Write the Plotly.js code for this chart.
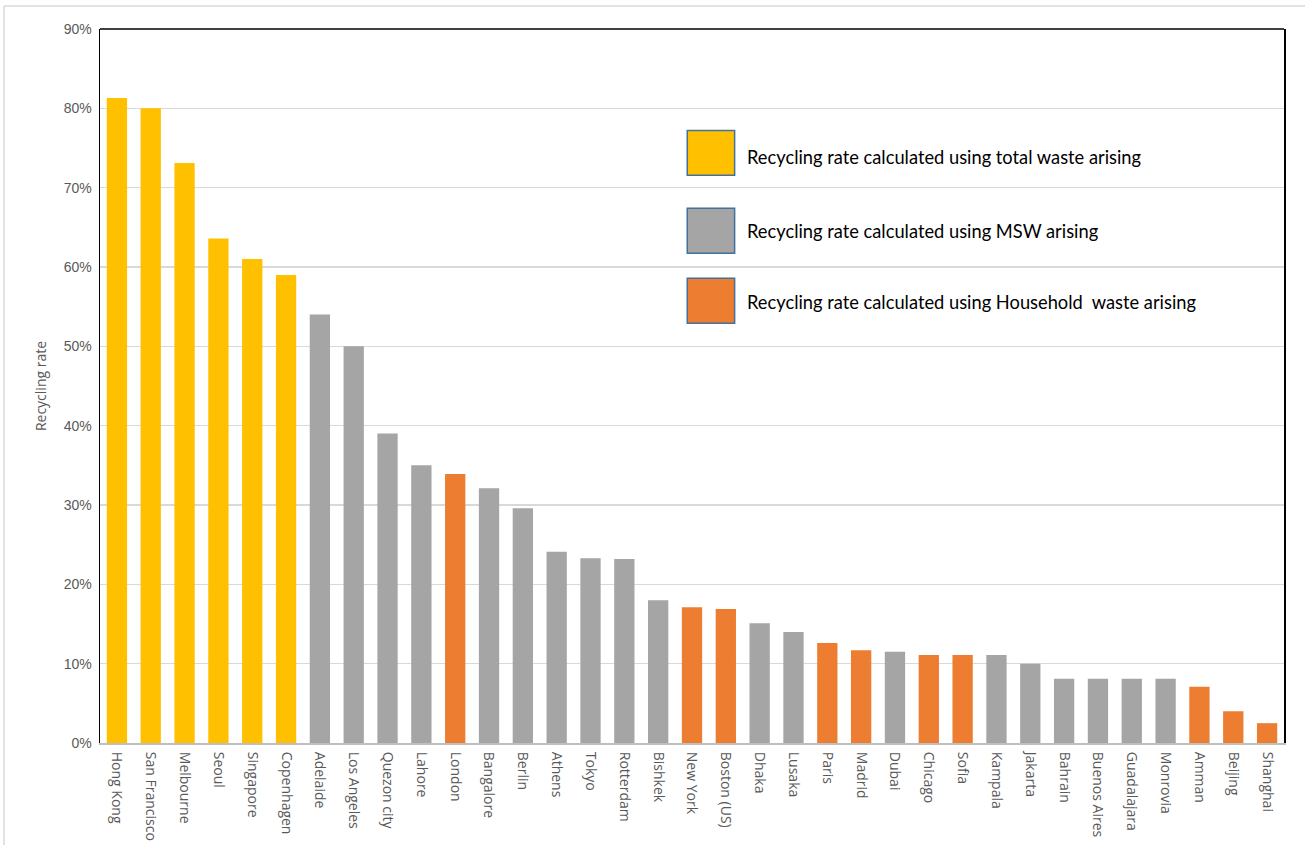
<!DOCTYPE html>
<html>
<head>
<meta charset="utf-8">
<script src="https://cdn.plot.ly/plotly-3.0.1.min.js"></script>
<style>
  html, body { margin: 0; padding: 0; background: #ffffff; }
  #chart { width: 1305px; height: 845px; }
</style>
</head>
<body>
<div id="chart"></div>
<script>
// City recycling rates, ordered from highest to lowest
const cities = [
  "Hong Kong", "San Francisco", "Melbourne", "Seoul", "Singapore", "Copenhagen",
  "Adelaide", "Los Angeles", "Quezon city", "Lahore", "London", "Bangalore",
  "Berlin", "Athens", "Tokyo", "Rotterdam", "Bishkek", "New York", "Boston (US)",
  "Dhaka", "Lusaka", "Paris", "Madrid", "Dubai", "Chicago", "Sofia", "Kampala",
  "Jakarta", "Bahrain", "Buenos Aires", "Guadalajara", "Monrovia", "Amman",
  "Beijing", "Shanghai"
];

const rates = [
  0.813, 0.800, 0.731, 0.636, 0.610, 0.590,
  0.540, 0.500, 0.390, 0.350, 0.339, 0.321,
  0.296, 0.241, 0.233, 0.232, 0.180, 0.171, 0.169,
  0.151, 0.140, 0.126, 0.117, 0.115, 0.111, 0.111, 0.111,
  0.100, 0.081, 0.081, 0.081, 0.081, 0.071,
  0.040, 0.025
];

// Which waste total each rate was calculated against
const basis = [
  "total", "total", "total", "total", "total", "total",
  "msw", "msw", "msw", "msw", "household", "msw",
  "msw", "msw", "msw", "msw", "msw", "household", "household",
  "msw", "msw", "household", "household", "msw", "household", "household", "msw",
  "msw", "msw", "msw", "msw", "msw", "household",
  "household", "household"
];

const basisKeys = ["total", "msw", "household"];
const basisLabels = [
  "Recycling rate calculated using total waste arising",
  "Recycling rate calculated using MSW arising",
  "Recycling rate calculated using Household  waste arising"
];
const basisColors = { total: "#FFC000", msw: "#A5A5A5", household: "#ED7D31" };

const yTickVals = [0, 0.1, 0.2, 0.3, 0.4, 0.5, 0.6, 0.7, 0.8, 0.9];

const trace = {
  type: "bar",
  x: cities,
  y: rates,
  marker: { color: basis.map(b => basisColors[b]), line: { width: 0 } },
  hovertemplate: "%{x}: %{y:.1%}<extra></extra>",
  showlegend: false
};

// Legend drawn as large swatches with text beside them (no background, gridlines show through)
const legendShapes = [];
const legendNotes = [];
const swatchTop = [0.858, 0.749, 0.651];   // paper y of swatch tops
const textMid = [0.821, 0.717, 0.618];     // paper y of label centres
basisKeys.forEach((k, i) => {
  legendShapes.push({
    type: "rect", xref: "paper", yref: "paper",
    x0: 0.496, x1: 0.536, y0: swatchTop[i] - 0.063, y1: swatchTop[i],
    fillcolor: basisColors[k],
    line: { color: "#41719C", width: 1.5 }
  });
  legendNotes.push({
    xref: "paper", yref: "paper",
    x: 0.5445, y: textMid[i],
    xanchor: "left", yanchor: "middle",
    text: basisLabels[i], showarrow: false,
    font: { family: "Lato, 'Open Sans', sans-serif", size: 18.3, color: "#000000" }
  });
});

const frameShapes = [
  // outer chart-area frame
  { type: "line", xref: "paper", yref: "paper", x0: -0.0811, x1: -0.0811, y0: -0.2, y1: 1.0322,
    line: { color: "#d9d9d9", width: 1.5 } },
  { type: "line", xref: "paper", yref: "paper", x0: -0.0811, x1: 1.05, y0: 1.0322, y1: 1.0322,
    line: { color: "#d9d9d9", width: 1.5 } },
  // top edge of the plot frame
  { type: "line", xref: "paper", yref: "paper", x0: 0, x1: 1, y0: 1, y1: 1,
    line: { color: "#000000", width: 1.5 } }
];

const layout = {
  width: 1305,
  height: 845,
  autosize: false,
  margin: { l: 100, r: 21, t: 29, b: 102 },
  paper_bgcolor: "#ffffff",
  plot_bgcolor: "#ffffff",
  bargap: 0.4,
  font: { family: "'Liberation Sans', Arial, sans-serif", color: "#595959" },
  xaxis: {
    type: "category",
    categoryorder: "array",
    categoryarray: cities,
    tickangle: 90,
    tickfont: { family: "'Open Sans', sans-serif", size: 14, color: "#595959" },
    ticks: "",
    ticklabelstandoff: 4,
    showline: true,
    linecolor: "#bfbfbf",
    linewidth: 2,
    showgrid: false,
    zeroline: false,
    fixedrange: true
  },
  yaxis: {
    range: [0, 0.9],
    tickvals: yTickVals,
    tickformat: ".0%",
    tickfont: { family: "'Liberation Sans', Arial, sans-serif", size: 14, color: "#595959" },
    ticks: "",
    ticklabelstandoff: 4,
    showline: true,
    mirror: true,
    linecolor: "#000000",
    linewidth: 1.5,
    showgrid: true,
    gridcolor: "#d9d9d9",
    gridwidth: 1.5,
    zeroline: false,
    title: {
      text: "Recycling rate",
      standoff: 14,
      font: { family: "'Open Sans', sans-serif", size: 14, color: "#595959" }
    },
    fixedrange: true
  },
  shapes: frameShapes.concat(legendShapes),
  annotations: legendNotes
};

Plotly.newPlot("chart", [trace], layout, { displayModeBar: false, staticPlot: true });
</script>
</body>
</html>
